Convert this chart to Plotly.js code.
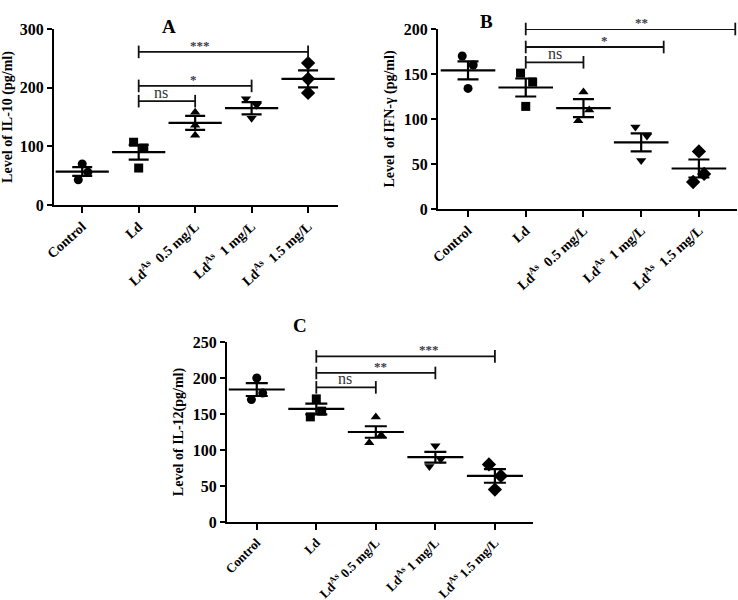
<!DOCTYPE html>
<html>
<head>
<meta charset="utf-8">
<script src="https://cdn.plot.ly/plotly-3.0.1.min.js"></script>
<style>html,body{margin:0;padding:0;background:#fff;}#chart{width:738px;height:600px;}</style>
</head>
<body>
<div id="chart"></div>
<script>
// ---------- DATA ----------
const categories = ['Control', 'Ld', 'Ld<sup>As</sup>  0.5 mg/L', 'Ld<sup>As</sup>  1 mg/L', 'Ld<sup>As</sup>  1.5 mg/L'];
const categoriesC = ['Control', 'Ld', 'Ld<sup>As</sup> 0.5 mg/L', 'Ld<sup>As</sup> 1 mg/L', 'Ld<sup>As</sup> 1.5 mg/L'];
const symbols = ['circle', 'square', 'triangle-up', 'triangle-down', 'diamond'];

// Panel A: IL-10
const il10Points = [[70, 56, 43], [107, 97, 63], [158, 136, 119], [181, 170, 148], [242, 215, 191]];
const il10Mean = [57, 90, 140, 165, 215];
const il10Sem = [7.5, 12.5, 12, 10.5, 14.5];
const il10SigTo = [2, 3, 4];
const il10SigY = [177, 203, 261];
const il10SigText = ['ns', '*', '***'];

// Panel B: IFN-γ
const ifnPoints = [[170, 160, 134], [151, 141, 114], [130, 110, 98], [91, 81, 54], [64, 39, 30]];
const ifnMean = [154, 135, 112, 74, 45];
const ifnSem = [10, 10, 10, 10, 10];
const ifnSigTo = [2, 3.39, 4.63];
const ifnSigY = [163, 180, 200];
const ifnSigText = ['ns', '*', '**'];

// Panel C: IL-12
const il12Points = [[200, 179, 170], [171, 154, 146], [146, 121, 110], [106, 87, 77], [80, 64, 45]];
const il12Mean = [184, 157, 125, 90, 64];
const il12Sem = [9, 7.5, 8, 7.5, 9.5];
const il12SigTo = [2, 3, 4];
const il12SigY = [187, 207, 230];
const il12SigText = ['ns', '**', '***'];

// ---------- STYLE / LAYOUT HELPERS ----------
const jitterA = [[0, 0.1, -0.07], [-0.09, 0.09, 0], [0, 0, 0], [-0.1, 0.09, 0], [0, 0, 0]];
const jitterB = [[-0.1, 0.09, 0], [-0.09, 0.12, 0], [0, 0.1, -0.09], [-0.1, 0.1, 0], [0, 0.09, -0.1]];
const jitterC = [[0, 0.1, -0.09], [0, 0.09, -0.1], [0, 0.09, -0.11], [0, 0.09, -0.1], [-0.1, 0.1, 0]];
const labelXA = [1.4, 1.97, 2.09];
const labelXB = [1.5, 2.37, 3.0];
const labelXC = [1.48, 2.08, 2.9];

const FONT = 'Liberation Serif, Times New Roman, serif';
const traces = [];
const annotations = [];

function addPanel(ax, points, jit, mean, sem, sigTo, sigY, sigText, labelX, meanSize, capW) {
  const xa = 'x' + (ax === 1 ? '' : ax), ya = 'y' + (ax === 1 ? '' : ax);
  points.forEach((grp, i) => {
    traces.push({
      type: 'scatter', mode: 'markers', xaxis: xa, yaxis: ya,
      x: grp.map((v, j) => i + jit[i][j]), y: grp,
      marker: {symbol: symbols[i], size: symbols[i] === 'diamond' ? 11 : 9, color: '#000'},
      cliponaxis: false, hoverinfo: 'y'
    });
  });
  traces.push({
    type: 'scatter', mode: 'markers', xaxis: xa, yaxis: ya,
    x: mean.map((v, i) => i), y: mean,
    marker: {symbol: 'line-ew', size: meanSize, color: '#000', line: {color: '#000', width: 2.2}},
    error_y: {type: 'data', array: sem, visible: true, color: '#000', thickness: 2.2, width: capW},
    cliponaxis: false, hoverinfo: 'y'
  });
  sigTo.forEach((to, k) => {
    traces.push({
      type: 'scatter', mode: 'lines+markers', xaxis: xa, yaxis: ya,
      x: [1, to], y: [sigY[k], sigY[k]],
      line: {color: '#111', width: 1.8},
      marker: {symbol: 'line-ns', size: 9, color: '#111', line: {color: '#111', width: 1.8}},
      cliponaxis: false, hoverinfo: 'skip'
    });
    const isNs = sigText[k] === 'ns';
    annotations.push({
      xref: xa, yref: ya, x: labelX[k], y: sigY[k], yanchor: 'bottom', yshift: isNs ? -2 : -3,
      text: sigText[k], showarrow: false,
      font: {family: FONT, size: isNs ? 16 : 13, color: isNs ? '#333' : '#3a3a48', weight: isNs ? 'normal' : 'bold'}
    });
  });
}

addPanel(1, il10Points, jitterA, il10Mean, il10Sem, il10SigTo, il10SigY, il10SigText, labelXA, 38, 10);
addPanel(2, ifnPoints, jitterB, ifnMean, ifnSem, ifnSigTo, ifnSigY, ifnSigText, labelXB, 39, 10.5);
addPanel(3, il12Points, jitterC, il12Mean, il12Sem, il12SigTo, il12SigY, il12SigText, labelXC, 40, 11);

function xAxis(domain, range, anchor, labels, angle, size) {
  return {
    domain: domain, range: range, anchor: anchor,
    tickmode: 'array', tickvals: [0, 1, 2, 3, 4], ticktext: labels, tickangle: angle,
    showline: true, linecolor: '#000', linewidth: 2, ticks: 'outside', ticklen: 6, tickwidth: 2, tickcolor: '#000',
    showgrid: false, zeroline: false,
    tickfont: {family: FONT, size: size, color: '#000', weight: 'bold'}
  };
}
function yAxis(domain, range, anchor, dtick, title) {
  return {
    domain: domain, range: range, anchor: anchor, dtick: dtick, tick0: 0,
    showline: true, linecolor: '#000', linewidth: 2, ticks: 'outside', ticklen: 5, tickwidth: 2, tickcolor: '#000',
    showgrid: false, zeroline: false,
    tickfont: {family: FONT, size: 16, color: '#000', weight: 'bold'},
    title: {text: title, font: {family: FONT, size: 14, color: '#000', weight: 'bold'}, standoff: 6}
  };
}

annotations.push({xref: 'paper', yref: 'paper', x: 160 / 738, y: 1 - 14 / 600, text: 'A', showarrow: false,
  font: {family: FONT, size: 19, color: '#000', weight: 'bold'}});
annotations.push({xref: 'paper', yref: 'paper', x: 495 / 738, y: 1 - 9 / 600, text: 'B', showarrow: false,
  font: {family: FONT, size: 19, color: '#000', weight: 'bold'}});
annotations.push({xref: 'paper', yref: 'paper', x: 300 / 738, y: 1 - 325 / 600, text: 'C', showarrow: false,
  font: {family: FONT, size: 19, color: '#000', weight: 'bold'}});

const layout = {
  width: 738, height: 600,
  margin: {l: 0, r: 0, t: 0, b: 0},
  paper_bgcolor: '#fff', plot_bgcolor: '#fff',
  showlegend: false,
  font: {family: FONT, color: '#000'},
  xaxis: xAxis([54 / 738, 338 / 738], [-0.5, 4.53], 'y', categories, -42, 14),
  yaxis: yAxis([1 - 205 / 600, 1 - 29 / 600], [0, 300], 'x', 100, 'Level of IL-10 (pg/ml)'),
  xaxis2: xAxis([438 / 738, 737 / 738], [-0.52, 4.66], 'y2', categories, -42, 14),
  yaxis2: yAxis([1 - 209 / 600, 1 - 29 / 600], [0, 200], 'x2', 50, 'Level  of IFN-γ (pg/ml)'),
  xaxis3: xAxis([227 / 738, 533 / 738], [-0.5, 4.64], 'y3', categoriesC, -45, 13),
  yaxis3: yAxis([1 - 522 / 600, 1 - 342 / 600], [0, 250], 'x3', 50, 'Level of IL-12(pg/ml)'),
  annotations: annotations
};

Plotly.newPlot('chart', traces, layout, {displayModeBar: false, staticPlot: true});
</script>
</body>
</html>
